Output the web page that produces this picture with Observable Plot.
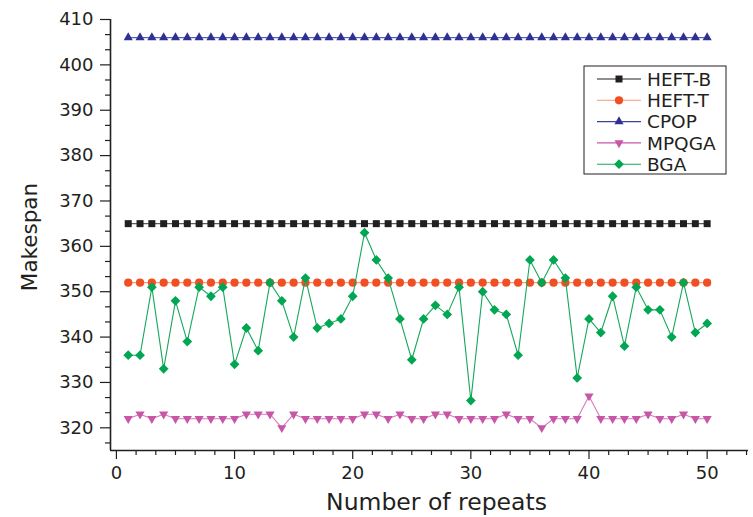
<!DOCTYPE html>
<html>
<head>
<meta charset="utf-8">
<script src="https://cdn.jsdelivr.net/npm/d3@7"></script>
<script src="https://cdn.jsdelivr.net/npm/@observablehq/plot@0.6"></script>
<style>
  html, body { margin: 0; padding: 0; background: #fff; }
  #chart { position: relative; width: 753px; height: 517px; }
  #chart svg { display: block; }
  #legend { position: absolute; left: 0; top: 0; pointer-events: none; }
</style>
</head>
<body>
<div id="chart"></div>
<script>
// Repeat index (x) shared by every series
const repeats = [1,2,3,4,5,6,7,8,9,10,11,12,13,14,15,16,17,18,19,20,21,22,23,24,25,
                 26,27,28,29,30,31,32,33,34,35,36,37,38,39,40,41,42,43,44,45,46,47,48,49,50];

// Makespan per repeat
const heftB = [365,365,365,365,365,365,365,365,365,365,365,365,365,365,365,365,365,365,365,365,365,365,365,365,365,
               365,365,365,365,365,365,365,365,365,365,365,365,365,365,365,365,365,365,365,365,365,365,365,365,365];
const heftT = [352,352,352,352,352,352,352,352,352,352,352,352,352,352,352,352,352,352,352,352,352,352,352,352,352,
               352,352,352,352,352,352,352,352,352,352,352,352,352,352,352,352,352,352,352,352,352,352,352,352,352];
const cpop  = [406,406,406,406,406,406,406,406,406,406,406,406,406,406,406,406,406,406,406,406,406,406,406,406,406,
               406,406,406,406,406,406,406,406,406,406,406,406,406,406,406,406,406,406,406,406,406,406,406,406,406];
const mpqga = [322,323,322,323,322,322,322,322,322,322,323,323,323,320,323,322,322,322,322,322,323,323,322,323,322,
               322,323,323,322,322,322,322,323,322,322,320,322,322,322,327,322,322,322,322,323,322,322,323,322,322];
const bga   = [336,336,351,333,348,339,351,349,351,334,342,337,352,348,340,353,342,343,344,349,363,357,353,344,335,
               344,347,345,351,326,350,346,345,336,357,352,357,353,331,344,341,349,338,351,346,346,340,352,341,343];

// Axis ranges and tick values
const xDomain = [-0.5, 53.5];
const yDomain = [315, 410];
const xTicks = [0, 10, 20, 30, 40, 50];
const yTicks = [320, 330, 340, 350, 360, 370, 380, 390, 400, 410];
const xMinorStep = 10 / 6;
const yMinorStep = 10 / 3;

const ink = "#231f20";

// Downward-pointing filled triangle
const triangleDown = {
  draw(context, size) {
    const s = Math.sqrt(size * 4 / Math.sqrt(3));
    const h = s * Math.sqrt(3) / 2;
    context.moveTo(-s / 2, -h / 3);
    context.lineTo(s / 2, -h / 3);
    context.lineTo(0, 2 * h / 3);
    context.closePath();
  }
};
const shapes = {
  square: d3.symbolSquare,
  circle: d3.symbolCircle,
  triangle: d3.symbolTriangle,
  triangleDown: triangleDown,
  diamond: d3.symbolDiamond2
};

const series = [
  { name: "HEFT-B", values: heftB, shape: "square",       r: 3.95, fill: "#231f20", line: "#5d5d5f", legendLine: "#231f20" },
  { name: "HEFT-T", values: heftT, shape: "circle",       r: 4.1,  fill: "#f04e23", line: "#f79a7c", legendLine: "#f79a7c" },
  { name: "CPOP",   values: cpop,  shape: "triangle",     r: 3.4,  fill: "#2e3192", line: "#5b5fb0", legendLine: "#3d42a0" },
  { name: "MPQGA",  values: mpqga, shape: "triangleDown", r: 3.4,  fill: "#c756a6", line: "#d57bbb", legendLine: "#c756a6" },
  { name: "BGA",    values: bga,   shape: "diamond",      r: 4.4,  fill: "#00a651", line: "#16a85a", legendLine: "#16a85a" }
];

const xMinor = d3.range(0, xDomain[1], xMinorStep).filter(v => Math.abs(v / 10 - Math.round(v / 10)) > 1e-6);
const yMinor = d3.range(yTicks[0] - yMinorStep, yDomain[1], yMinorStep)
  .filter(v => v >= yDomain[0] && Math.abs(v / 10 - Math.round(v / 10)) > 1e-6);

const marks = [];
for (const s of series) {
  marks.push(Plot.line(repeats, { x: d => d, y: (d, i) => s.values[i], stroke: s.line, strokeWidth: 1.1 }));
  marks.push(Plot.dot(repeats, { x: d => d, y: (d, i) => s.values[i], symbol: shapes[s.shape], r: s.r, fill: s.fill, stroke: "none" }));
}

const chart = Plot.plot({
  width: 753,
  height: 517,
  marginLeft: 110,
  marginRight: 5,
  marginTop: 19,
  marginBottom: 67,
  style: { fontFamily: "DejaVu Sans", background: "#fff", color: ink },
  x: { domain: xDomain },
  y: { domain: yDomain },
  marks: [
    Plot.axisX(xTicks, { tickSize: 9, tickPadding: 7, fontSize: 18, label: null, color: ink, strokeWidth: 1.2 }),
    Plot.axisX(xMinor, { tickSize: 5, tickFormat: () => "", label: null, color: ink, strokeWidth: 1.2 }),
    Plot.axisY(yTicks, { tickSize: 10, tickPadding: 7, fontSize: 18, label: null, color: ink, strokeWidth: 1.2 }),
    Plot.axisY(yMinor, { tickSize: 5, tickFormat: () => "", label: null, color: ink, strokeWidth: 1.2 }),
    Plot.ruleX([xDomain[0]], { stroke: ink, strokeWidth: 1.6 }),
    Plot.ruleY([yDomain[0]], { stroke: ink, strokeWidth: 1.6 }),
    Plot.text(["Number of repeats"], { text: d => d, frameAnchor: "bottom", textAnchor: "middle", dx: 7, dy: 59, lineAnchor: "bottom", fontSize: 23.5, fill: ink }),
    Plot.text(["Makespan"], { text: d => d, frameAnchor: "left", textAnchor: "middle", rotate: -90, dx: -74, dy: 2, lineAnchor: "bottom", fontSize: 21.5, fill: ink }),
    ...marks
  ]
});

const container = document.getElementById("chart");
container.appendChild(chart);

// Legend box in the upper right
const legend = d3.select(container).append("svg")
  .attr("id", "legend")
  .attr("width", 753)
  .attr("height", 517);

const box = { x: 584, y: 66, w: 142, h: 108 };
legend.append("rect")
  .attr("x", box.x).attr("y", box.y).attr("width", box.w).attr("height", box.h)
  .attr("fill", "#fff").attr("stroke", ink).attr("stroke-width", 1);

const rowY0 = 79, rowGap = 21.3;
series.forEach((s, i) => {
  const y = rowY0 + i * rowGap;
  const g = legend.append("g");
  g.append("line")
    .attr("x1", 597).attr("x2", 641).attr("y1", y).attr("y2", y)
    .attr("stroke", s.legendLine).attr("stroke-width", 1.1);
  g.append("path")
    .attr("transform", `translate(619,${y})`)
    .attr("d", d3.symbol(shapes[s.shape], s.r * s.r * Math.PI)())
    .attr("fill", s.fill);
  g.append("text")
    .attr("x", 647).attr("y", y).attr("dy", "0.36em")
    .attr("font-family", "DejaVu Sans").attr("font-size", 18.5)
    .attr("fill", ink)
    .text(s.name);
});
</script>
</body>
</html>
